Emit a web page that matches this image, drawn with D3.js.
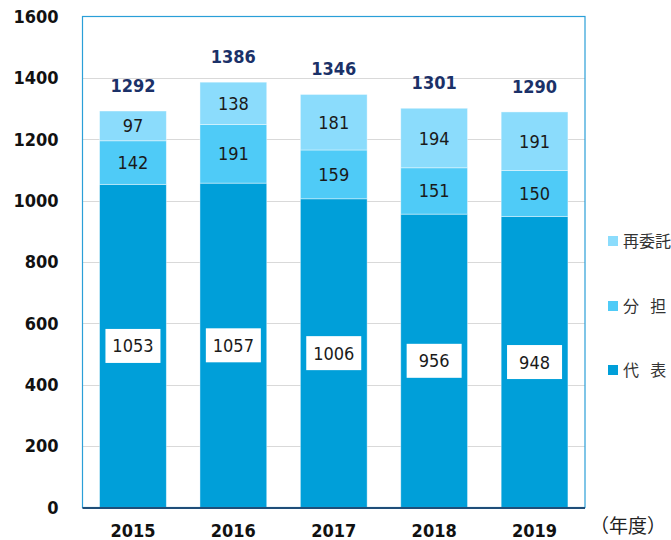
<!DOCTYPE html>
<html>
<head>
<meta charset="utf-8">
<script src="https://cdn.jsdelivr.net/npm/d3@7"></script>
<style>
  body { margin: 0; background: #fff; }
  svg { display: block; font-family: "DejaVu Sans Condensed", "DejaVu Sans", sans-serif; font-stretch: condensed; }
</style>
</head>
<body>
<svg id="chart" width="671" height="540"></svg>
<script>
// --- données ---
const years = ["2015", "2016", "2017", "2018", "2019"];
const daihyo = [1053, 1057, 1006, 956, 948];   // 代表
const buntan = [142, 191, 159, 151, 150];      // 分担
const saiitaku = [97, 138, 181, 194, 191];     // 再委託
const totals = [1292, 1386, 1346, 1301, 1290];
const yTicks = [0, 200, 400, 600, 800, 1000, 1200, 1400, 1600];

const seriesNames = ["代\u2002\u2009表", "分\u2002\u2009担", "再委託"];
const colors = ["#009fd9", "#4fcbf7", "#8bdcfc"];

const numFont = "DejaVu Sans Condensed, DejaVu Sans, sans-serif";
const svg = d3.select("#chart");
const plotLeft = 82.5, plotRight = 585, plotTop = 16.5, plotBottom = 507.5;

const x = d3.scaleBand().domain(years).range([plotLeft, plotRight]).paddingInner(0.335).paddingOuter(0.17);
const y = d3.scaleLinear().domain([0, 1600]).range([plotBottom, plotTop]);

// grille
svg.append("g").selectAll("line")
    .data(yTicks.filter(d => d > 0 && d < 1600))
    .enter().append("line")
    .attr("x1", plotLeft).attr("x2", plotRight)
    .attr("y1", d => Math.round(y(d)) + 0.5).attr("y2", d => Math.round(y(d)) + 0.5)
    .attr("stroke", "#d9d9d9").attr("stroke-width", 1.2);

// empilement
const rows = years.map((yr, i) => ({year: yr, s0: daihyo[i], s1: buntan[i], s2: saiitaku[i]}));
const stack = d3.stack().keys(["s0", "s1", "s2"])(rows);

const layers = svg.append("g").selectAll("g")
    .data(stack).enter().append("g")
    .attr("fill", (d, i) => colors[i]);

layers.selectAll("rect")
    .data(d => d).enter().append("rect")
    .attr("x", d => x(d.data.year))
    .attr("width", x.bandwidth())
    .attr("y", d => y(d[1]))
    .attr("height", d => y(d[0]) - y(d[1]))
    .attr("stroke", "rgba(255,255,255,0.5)")
    .attr("stroke-width", 0.8);

// étiquettes des segments
stack.forEach((layer, li) => {
    const g = svg.append("g");
    layer.forEach(d => {
        const cx = x(d.data.year) + x.bandwidth() / 2;
        const cy = y((d[0] + d[1]) / 2);
        const v = d[1] - d[0];
        if (li === 0) {
            g.append("rect")
                .attr("x", cx - 27.5).attr("y", cy - 17)
                .attr("width", 55).attr("height", 34)
                .attr("fill", "#fff");
        }
        g.append("text")
            .attr("x", cx).attr("y", cy)
            .attr("dy", "0.36em")
            .attr("text-anchor", "middle")
            .attr("font-family", numFont)
            .attr("font-size", 18)
            .attr("fill", "#1a1a1a")
            .text(v);
    });
});

// totaux
svg.append("g").selectAll("text")
    .data(years).enter().append("text")
    .attr("x", d => x(d) + x.bandwidth() / 2)
    .attr("y", (d, i) => y(totals[i]) - 19)
    .attr("text-anchor", "middle")
    .attr("font-family", numFont)
    .attr("font-size", 18).attr("font-weight", "bold")
    .attr("fill", "#1b3168")
    .text((d, i) => totals[i]);

// cadre
svg.append("rect")
    .attr("x", plotLeft).attr("y", plotTop)
    .attr("width", plotRight - plotLeft).attr("height", plotBottom - plotTop)
    .attr("fill", "none").attr("stroke", "#2a9fd8").attr("stroke-width", 1.2);
svg.append("line")
    .attr("x1", plotLeft).attr("x2", plotRight)
    .attr("y1", plotBottom + 0.5).attr("y2", plotBottom + 0.5)
    .attr("stroke", "#1f4e79").attr("stroke-width", 2);

// axe Y
const yAxis = svg.append("g")
    .attr("transform", `translate(${plotLeft},0)`)
    .call(d3.axisLeft(y).tickValues(yTicks).tickFormat(d3.format("d")).tickSize(0).tickPadding(24));
yAxis.select(".domain").remove();
yAxis.selectAll("text")
    .attr("font-family", numFont)
    .attr("font-size", 18).attr("font-weight", "bold").attr("fill", "#111");

// axe X
const xAxis = svg.append("g")
    .attr("transform", `translate(0,${plotBottom})`)
    .call(d3.axisBottom(x).tickSize(0).tickPadding(17));
xAxis.select(".domain").remove();
xAxis.selectAll("text")
    .attr("font-family", numFont)
    .attr("font-size", 18).attr("font-weight", "bold").attr("fill", "#111");

svg.append("text")
    .attr("x", 590).attr("y", 533)
    .attr("font-family", "Noto Sans CJK JP, sans-serif")
    .attr("font-size", 19).attr("fill", "#222")
    .text("（年度）");

// légende
const legendY = [370, 306, 241];
const legend = svg.append("g").selectAll("g")
    .data(seriesNames).enter().append("g")
    .attr("transform", (d, i) => `translate(608,${legendY[i]})`);
legend.append("rect")
    .attr("x", 0).attr("y", -5).attr("width", 10).attr("height", 10)
    .attr("fill", (d, i) => colors[i]);
legend.append("text")
    .attr("x", 15).attr("y", 0).attr("dy", "0.36em")
    .attr("font-family", "Noto Sans CJK JP, sans-serif")
    .attr("font-size", 16).attr("fill", "#333")
    .text(d => d);
</script>
</body>
</html>
